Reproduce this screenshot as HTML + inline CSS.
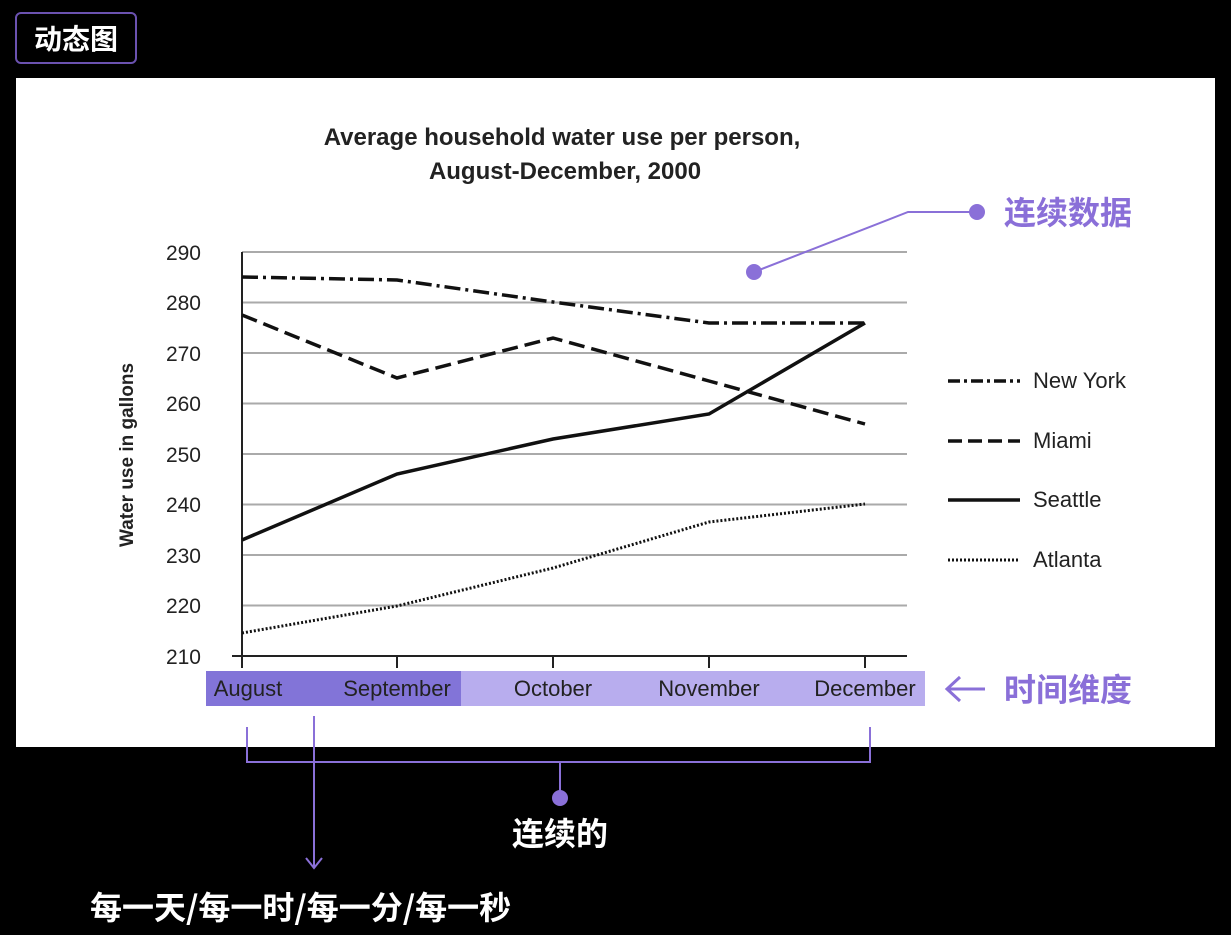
<!DOCTYPE html>
<html><head><meta charset="utf-8"><style>
body{margin:0;background:#000;width:1231px;height:935px;overflow:hidden;font-family:"Liberation Sans","Noto Sans CJK SC",sans-serif}
</style></head><body>
<svg width="1231" height="935" xmlns="http://www.w3.org/2000/svg" style="position:absolute;left:0;top:0">
<rect x="16" y="13" width="120" height="50" rx="5" fill="#000" stroke="#6b52b0" stroke-width="2"/>
<text x="76" y="49" font-size="28" font-weight="bold" fill="#fff" text-anchor="middle" font-family="Noto Sans CJK SC,sans-serif">动态图</text>
<rect x="16" y="78" width="1199" height="669" fill="#fff"/>
<text x="562" y="145" font-size="24" font-weight="bold" text-anchor="middle" fill="#222">Average household water use per person,</text>
<text x="565" y="179" font-size="24" font-weight="bold" text-anchor="middle" fill="#222">August-December, 2000</text>
<g stroke="#aaa" stroke-width="2">
<line x1="242" y1="252" x2="907" y2="252"/><line x1="242" y1="302.5" x2="907" y2="302.5"/><line x1="242" y1="353" x2="907" y2="353"/><line x1="242" y1="403.5" x2="907" y2="403.5"/><line x1="242" y1="454" x2="907" y2="454"/><line x1="242" y1="504.5" x2="907" y2="504.5"/><line x1="242" y1="555" x2="907" y2="555"/><line x1="242" y1="605.5" x2="907" y2="605.5"/>
</g>
<g stroke="#222" stroke-width="2"><line x1="242" y1="252" x2="242" y2="668"/><line x1="232" y1="656" x2="907" y2="656"/>
<line x1="397" y1="656" x2="397" y2="668"/><line x1="553" y1="656" x2="553" y2="668"/><line x1="709" y1="656" x2="709" y2="668"/><line x1="865" y1="656" x2="865" y2="668"/></g>
<g font-size="21" fill="#222" text-anchor="end">
<text x="201" y="260">290</text><text x="201" y="310">280</text><text x="201" y="361">270</text><text x="201" y="411">260</text><text x="201" y="462">250</text><text x="201" y="512">240</text><text x="201" y="563">230</text><text x="201" y="613">220</text><text x="201" y="664">210</text></g>
<text transform="translate(133,455) rotate(-90)" font-size="19" font-weight="bold" text-anchor="middle" fill="#222">Water use in gallons</text>
<g fill="none" stroke="#111" stroke-width="3.5">
<polyline points="242,277 397,280 553,302 709,323 865,323" stroke-dasharray="16,5,3,5"/>
<polyline points="242,315 397,378 553,338 709,381 865,424" stroke-dasharray="16,7"/>
<polyline points="242,540 397,474 553,439 709,414 865,323"/>
<polyline points="242,633 397,606 553,568 709,522 865,504" stroke-width="3" stroke-dasharray="2,2"/>
<line x1="948" y1="381" x2="1020" y2="381" stroke-dasharray="12,4,3,4"/>
<line x1="948" y1="441" x2="1020" y2="441" stroke-dasharray="14,6"/>
<line x1="948" y1="500" x2="1020" y2="500"/>
<line x1="948" y1="560" x2="1020" y2="560" stroke-width="3" stroke-dasharray="2,2"/>
</g>
<g font-size="22" fill="#222"><text x="1033" y="388">New York</text><text x="1033" y="448">Miami</text><text x="1033" y="507">Seattle</text><text x="1033" y="567">Atlanta</text></g>
<rect x="206" y="671" width="719" height="35" fill="#b8adee"/>
<rect x="206" y="671" width="255" height="35" fill="#8274d8"/>
<g font-size="22" fill="#222" text-anchor="middle"><text x="248" y="696">August</text><text x="397" y="696">September</text><text x="553" y="696">October</text><text x="709" y="696">November</text><text x="865" y="696">December</text></g>
<g stroke="#8a70d8" stroke-width="2" fill="none">
<polyline points="977,212 908,212 754,272"/>
<polyline points="247,727 247,762 870,762 870,727"/>
<line x1="560" y1="762" x2="560" y2="798"/>
<line x1="314" y1="716" x2="314" y2="868"/>
<polyline points="306,858 314,868 322,858"/>
<line x1="947" y1="689" x2="985" y2="689" stroke-width="3"/>
<polyline points="960,677 947,689 960,701" stroke-width="3"/>
</g>
<circle cx="977" cy="212" r="8" fill="#8a70d8"/><circle cx="754" cy="272" r="8" fill="#8a70d8"/><circle cx="560" cy="798" r="8" fill="#8a70d8"/>
<g font-size="32" font-weight="bold" font-family="Noto Sans CJK SC,sans-serif">
<text x="1004" y="224" fill="#8a6fd8">连续数据</text>
<text x="1004" y="701" fill="#8a6fd8">时间维度</text>
<text x="560" y="845" fill="#fff" text-anchor="middle">连续的</text>
<text x="90" y="919" fill="#fff">每一天/每一时/每一分/每一秒</text>
</g>
</svg>
</body></html>
